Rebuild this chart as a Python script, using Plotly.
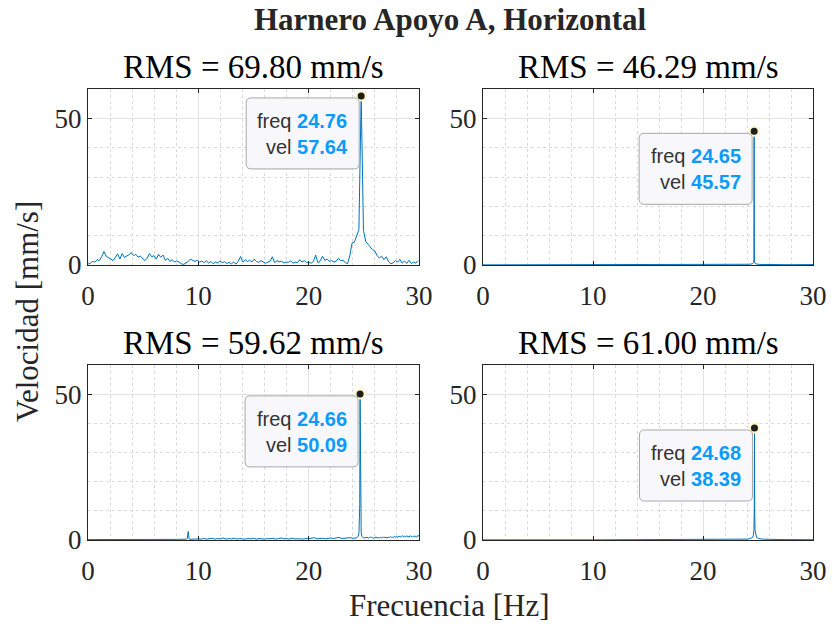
import plotly.graph_objects as go

# ---------------- data ----------------
# Top-left spectrum (bin spacing ~0.2063 Hz)
tl_df = 0.20633
tl_v = [0.3, 0.6, 1.2, 1.0, 1.8, 1.5, 2.8, 4.6, 3.0, 2.4,
        1.9, 1.5, 2.6, 3.8, 2.0, 3.9, 2.6, 3.0, 3.5, 4.2,
        3.2, 3.6, 2.7, 3.0, 2.2, 1.5, 2.3, 3.9, 2.8, 3.2,
        2.0, 3.6, 2.6, 3.4, 1.6, 2.3, 1.2, 1.8, 1.0, 1.4,
        1.0, 0.4, 0.2, 0.6, 1.2, 2.0, 1.5, 1.2, 1.6, 1.0,
        1.3, 0.8, 1.5, 0.6, 1.2, 0.4, 1.0, 0.7, 1.4, 0.8,
        1.1, 0.5, 0.9, 0.4, 1.0, 0.3, 1.2, 2.9, 1.0, 1.8,
        1.2, 1.6, 1.0, 2.0, 1.2, 0.9, 1.5, 1.0, 0.6, 0.9,
        1.3, 2.8, 0.8, 1.5, 1.1, 1.3, 0.7, 1.0, 0.9, 1.4,
        0.6, 1.0, 0.8, 1.8, 1.0, 1.5, 0.8, 1.0, 0.6, 1.2,
        3.4, 0.8, 1.4, 3.0, 1.6, 2.0, 1.2, 1.5, 1.0, 1.3,
        2.3, 1.4, 1.6, 0.9, 0.4, 3.2, 7.5, 7.8, 10.0, 12.0,
        57.64, 11.8, 8.0, 7.0, 6.2, 5.2, 4.8, 3.2, 2.4, 3.0,
        1.8, 2.8, 1.2, 0.4, 0.7, 1.5, 1.0, 1.9, 0.6, 1.4,
        0.5, 1.6, 0.5, 1.0, 0.6, 1.5]
tl_f = [round(i * tl_df, 4) for i in range(len(tl_v))]

# Top-right spectrum
tr_f = [0, 5, 10, 15, 20, 21.5, 22.5, 23.5, 24.2, 24.5, 24.6, 24.63, 24.65,
        24.67, 24.7, 24.8, 25.1, 26, 28, 30]
tr_v = [0.05, 0.05, 0.05, 0.06, 0.1, 0.15, 0.2, 0.15, 0.25, 0.4, 0.8, 2.0, 45.57,
        2.0, 0.8, 0.4, 0.2, 0.1, 0.1, 0.15]

# Bottom-left spectrum (pieces)
bl_low_f = [0, 2, 4, 6, 8, 8.95, 9.0, 9.08, 9.16]
bl_low_v = [0.15, 0.1, 0.15, 0.2, 0.2, 0.3, 0.5, 2.9, 0.4]
bl_mid_start, bl_mid_step = 9.25, 0.25
bl_mid_v = [0.2, 0.3, 0.2, 0.4, 0.3, 0.5, 0.3, 0.4, 0.6, 0.3,
            0.5, 0.4, 0.7, 0.3, 0.5, 0.4, 0.6, 0.3, 0.5, 0.4,
            0.3, 0.5, 0.4, 0.6, 0.3, 0.5, 0.4, 0.3, 0.5, 0.4,
            0.6, 0.3, 0.5, 0.7, 0.4, 0.5, 0.3, 0.6, 0.4, 0.5,
            0.4, 0.3, 0.5, 0.4, 0.6, 0.8, 0.4, 0.5, 0.6, 0.4,
            0.5, 0.7, 0.5, 0.6, 0.9, 0.5, 0.6, 0.7, 0.8, 0.6]
bl_pk_f = [24.2, 24.4, 24.5, 24.56, 24.6, 24.63, 24.66, 24.69, 24.72, 24.76,
           24.82, 24.9]
bl_pk_v = [0.6, 0.9, 1.3, 2.5, 7.0, 12.0, 50.09, 12.0, 7.0, 2.5, 1.3, 0.9]
bl_hi_start, bl_hi_step = 25.0, 0.1
bl_hi_v = [0.6, 0.9, 0.7, 1.0, 0.6, 0.8, 1.1, 0.7, 0.9, 0.6,
           0.8, 1.0, 0.7, 0.9, 0.6, 1.0, 0.8, 0.7, 1.1, 0.8,
           0.9, 0.7, 1.0, 0.8, 1.2, 0.9, 1.0, 0.8, 1.3, 1.0,
           1.1, 0.9, 1.4, 1.0, 1.2, 1.5, 1.0, 1.3, 1.1, 1.4,
           1.2, 1.0, 1.5, 1.1, 1.3, 1.0, 1.4, 1.2, 1.0, 1.6,
           1.3]
bl_f = (bl_low_f
        + [round(bl_mid_start + i * bl_mid_step, 3) for i in range(len(bl_mid_v))]
        + bl_pk_f
        + [round(bl_hi_start + i * bl_hi_step, 3) for i in range(len(bl_hi_v))])
bl_v = bl_low_v + bl_mid_v + bl_pk_v + bl_hi_v

# Bottom-right spectrum
br_f = [0, 1, 2, 10, 20, 23, 24.0, 24.3, 24.5, 24.58, 24.63, 24.66, 24.68,
        24.70, 24.73, 24.78, 24.86, 25.05, 25.4, 27, 30]
br_v = [0.05, 0.15, 0.05, 0.05, 0.1, 0.15, 0.3, 0.5, 0.9, 1.6, 3.5, 10.0, 38.39,
        10.0, 3.5, 1.6, 0.9, 0.5, 0.3, 0.15, 0.1]

series = [(tl_f, tl_v), (tr_f, tr_v), (bl_f, bl_v), (br_f, br_v)]
rms_titles = ["RMS = 69.80 mm/s", "RMS = 46.29 mm/s",
              "RMS = 59.62 mm/s", "RMS = 61.00 mm/s"]
tips = [(24.76, 57.64), (24.65, 45.57), (24.66, 50.09), (24.68, 38.39)]
x_ticks = [0, 10, 20, 30]
y_ticks = [0, 50]

suptitle = "Harnero Apoyo A, Horizontal"
xlabel = "Frecuencia [Hz]"
ylabel = "Velocidad [mm/s]"

# ---------------- layout ----------------
W, H = 833, 629
SERIF = "Liberation Serif, Times New Roman, serif"
SANS = "Liberation Sans, Arial, Helvetica, sans-serif"
AX = "#262626"
LINE = "#0072BD"

# axes boxes in pixels (left, right, top, bottom)
boxes = [(88, 419, 89, 265), (483, 813, 89, 265),
         (88, 419, 365, 540), (483, 813, 365, 540)]

fig = go.Figure()
layout = dict(width=W, height=H, margin=dict(l=0, r=0, t=0, b=0, autoexpand=False),
              paper_bgcolor="white", plot_bgcolor="white",
              showlegend=False, hovermode=False)

annotations = []
shapes = []
for k, ((f, v), (l, r, t, b)) in enumerate(zip(series, boxes)):
    idx = "" if k == 0 else str(k + 1)
    xa, ya = "x" + idx, "y" + idx
    fig.add_trace(go.Scatter(x=f, y=v, mode="lines", xaxis=xa, yaxis=ya,
                             line=dict(color=LINE, width=1), hoverinfo="skip"))
    tx, ty = tips[k]
    fig.add_trace(go.Scatter(x=[tx], y=[ty], mode="markers", xaxis=xa, yaxis=ya,
                             marker=dict(size=9, color="#1e1e1e",
                                         line=dict(color="#fff6c2", width=2)),
                             cliponaxis=False, hoverinfo="skip"))
    common = dict(showline=True, linecolor=AX, linewidth=1, mirror="allticks",
                  ticks="inside", ticklen=4, tickcolor=AX, tickwidth=1,
                  tickfont=dict(family=SERIF, size=27, color=AX),
                  showgrid=True, gridcolor="#e3e3e3", gridwidth=1,
                  zeroline=False, fixedrange=True, automargin=False)
    layout["xaxis" + idx] = dict(common, domain=[l / W, r / W], range=[0, 30],
                                 tickvals=x_ticks, anchor=ya,
                                 ticklabelstandoff=7,
                                 minor=dict(dtick=2, tick0=0, showgrid=True,
                                            gridcolor="#dadada", griddash="dot",
                                            ticks=""))
    layout["yaxis" + idx] = dict(common, domain=[1 - b / H, 1 - t / H], range=[0, 60],
                                 tickvals=y_ticks, anchor=xa,
                                 ticklabelstandoff=0,
                                 minor=dict(dtick=10, tick0=0, showgrid=True,
                                            gridcolor="#dadada", griddash="dot",
                                            ticks=""))
    # subplot title
    annotations.append(dict(text=rms_titles[k], xref="paper", yref="paper",
                            x=(l + r) / 2 / W, y=1 - (t - 22) / H,
                            xanchor="center", yanchor="middle", showarrow=False,
                            font=dict(family=SERIF, size=33, color="black")))
    # data tip box (rounded rectangle, pixel offsets from the data point)
    x0, x1, y0, y1, rr = -115, -2, -2, -73, 5
    path = (f"M {x0+rr},{y0} L {x1-rr},{y0} Q {x1},{y0} {x1},{y0-rr} "
            f"L {x1},{y1+rr} Q {x1},{y1} {x1-rr},{y1} L {x0+rr},{y1} "
            f"Q {x0},{y1} {x0},{y1+rr} L {x0},{y0-rr} Q {x0},{y0} {x0+rr},{y0} Z")
    shapes.append(dict(type="path", path=path, xref=xa, yref=ya,
                       xsizemode="pixel", ysizemode="pixel",
                       xanchor=tx, yanchor=ty,
                       fillcolor="#f8f8fc", line=dict(color="#a8a8a8", width=1),
                       layer="above"))
    val = "<span style='color:#0a9bff'><b>%s</b></span>"
    annotations.append(dict(text=("freq " + val % f"{tx:.2f}" + "<br>vel "
                                  + val % f"{ty:.2f}"),
                            xref=xa, yref=ya, x=tx, y=ty, xanchor="right",
                            yanchor="top", xshift=-11, yshift=-12, align="right",
                            showarrow=False,
                            font=dict(family=SANS, size=20, color="#333333")))

annotations.append(dict(text="<b>" + suptitle + "</b>", xref="paper", yref="paper",
                        x=450 / W, y=1 - 20 / H, xanchor="center", yanchor="middle",
                        showarrow=False,
                        font=dict(family=SERIF, size=31, color="#262626")))
annotations.append(dict(text=xlabel, xref="paper", yref="paper",
                        x=449 / W, y=1 - 605 / H, xanchor="center", yanchor="middle",
                        showarrow=False,
                        font=dict(family=SERIF, size=31, color="#262626")))
annotations.append(dict(text=ylabel, xref="paper", yref="paper",
                        x=28 / W, y=1 - 312 / H, xanchor="center", yanchor="middle",
                        textangle=-90, showarrow=False,
                        font=dict(family=SERIF, size=31, color="#262626")))

layout["annotations"] = annotations
layout["shapes"] = shapes
fig.update_layout(**layout)
fig.write_html("out.html")
